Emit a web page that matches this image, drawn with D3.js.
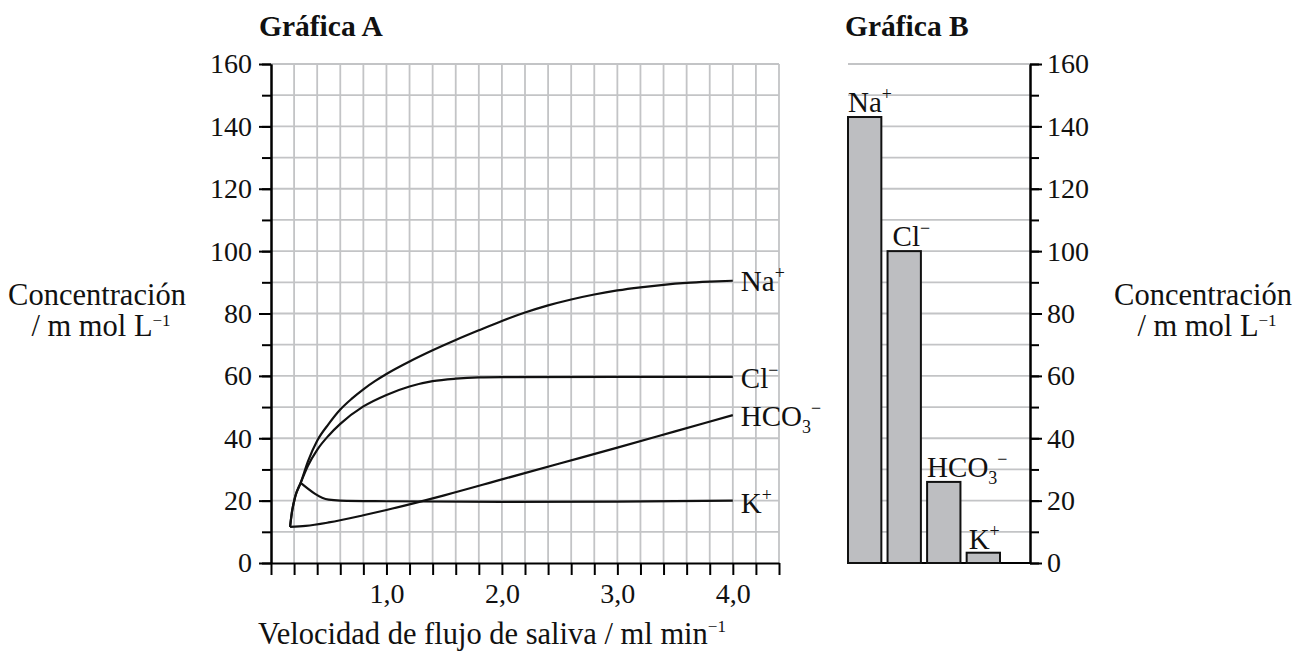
<!DOCTYPE html>
<html><head><meta charset="utf-8">
<script src="https://cdn.jsdelivr.net/npm/d3@7"></script>
<style>
html,body{margin:0;padding:0;background:#fff;}
svg{display:block;font-family:"Liberation Serif","Times New Roman",serif;}
</style></head>
<body>
<svg id="c" width="1306" height="657"></svg>
<script>
// ---- data ----
const yTicks = [0,20,40,60,80,100,120,140,160];
const xTickLabels = [1,2,3,4];
const naData  = [[0.165,11.6],[0.18,16],[0.21,21.3],[0.257,25.7],[0.32,32.6],[0.4,39.2],[0.5,44.6],[0.6,49.2],[0.7,52.7],[0.8,55.7],[0.9,58.3],[1.0,60.6],[1.2,64.6],[1.4,68.2],[1.6,71.5],[1.8,74.6],[2.0,77.6],[2.2,80.3],[2.4,82.6],[2.6,84.5],[2.8,86.1],[3.0,87.4],[3.2,88.4],[3.4,89.2],[3.6,89.8],[3.8,90.2],[4.0,90.5]];
const clData  = [[0.165,11.6],[0.18,16],[0.21,21.3],[0.257,25.7],[0.32,31.2],[0.4,36.3],[0.5,40.9],[0.6,44.6],[0.8,50.2],[1.0,53.9],[1.2,56.6],[1.4,58.3],[1.6,59.1],[1.8,59.5],[2.0,59.6],[3.0,59.7],[4.0,59.7]];
const hco3Data = [[0.165,11.6],[0.3,11.9],[0.5,13],[0.8,15.3],[1.0,17],[1.5,21.7],[2.0,26.8],[2.5,31.9],[3.0,37],[3.5,42.2],[4.0,47.4]];
const kData   = [[0.257,25.7],[0.5,20.3],[0.6,20],[1.0,19.8],[2.0,19.6],[3.0,19.7],[4.0,20]];
const barIons = ["Na","Cl","HCO3","K"];
const barValues = [143,100,26,3.3];

const FONT = 29, TICKFONT = 28, TITLEFONT = 30.5;
const svg = d3.select("#c");

const y = d3.scaleLinear().domain([0,160]).range([563,64]);
const xA = d3.scaleLinear().domain([0,4.4]).range([271,779]);
const xB = d3.scaleBand().domain(barIons).range([848,1000]).paddingInner(0.157).paddingOuter(0);
const gridB = [848,1030];

const gridColor = "#c3c4c6";

// ---------- Graph A ----------
const gA = svg.append("g");
gA.append("g").selectAll("line").data(d3.range(1,17).map(i=>i*10)).join("line")
  .attr("x1",xA(0)).attr("x2",xA(4.4)).attr("y1",d=>y(d)).attr("y2",d=>y(d))
  .attr("stroke",gridColor).attr("stroke-width",1.8);
gA.append("g").selectAll("line").data(d3.range(1,23).map(i=>i/5)).join("line")
  .attr("x1",d=>xA(d)).attr("x2",d=>xA(d)).attr("y1",y(0)).attr("y2",y(160))
  .attr("stroke",gridColor).attr("stroke-width",1.8);

const yAxisMinor = d3.axisLeft(y).tickValues(d3.range(0,17).map(i=>i*10)).tickSize(9).tickSizeOuter(0).tickFormat("");
const yAxisMajor = d3.axisLeft(y).tickValues(yTicks).tickSize(12).tickSizeOuter(0).tickPadding(7);
function styleAxis(g){
  g.selectAll("path,line").attr("stroke","#000").attr("stroke-width",2);
  g.selectAll("text").attr("font-size",TICKFONT).attr("fill","#111").attr("font-family","Liberation Serif, Times New Roman, serif");
}
gA.append("g").attr("transform",`translate(${xA(0)},0)`).call(yAxisMinor).call(styleAxis);
gA.append("g").attr("transform",`translate(${xA(0)},0)`).call(yAxisMajor).call(styleAxis);

const fmt = d => d3.format(".1f")(d).replace(".",",");
const xAxis = d3.axisBottom(xA).tickValues(d3.range(0,23).map(i=>i/5)).tickSize(12).tickSizeOuter(0)
  .tickFormat(d => xTickLabels.includes(Math.round(d*5)/5) ? fmt(d) : "").tickPadding(8);
gA.append("g").attr("transform",`translate(0,${y(0)})`).call(xAxis).call(styleAxis);

const line = d3.line().x(d=>xA(d[0])).y(d=>y(d[1])).curve(d3.curveMonotoneX);
[naData,clData,hco3Data,kData].forEach(dat=>{
  gA.append("path").attr("d",line(dat)).attr("fill","none").attr("stroke","#111").attr("stroke-width",2.2).attr("stroke-linejoin","round");
});

function ionLabel(g, x, yb, base, sub, sup){
  const t = g.append("text").attr("x",x).attr("y",yb).attr("font-size",FONT).attr("fill","#111");
  t.append("tspan").text(base);
  if(sub){ t.append("tspan").attr("font-size",FONT*0.62).attr("dy",7).text(sub); }
  if(sup){ t.append("tspan").attr("font-size",FONT*0.62).attr("dy",sub? -19 : -12).text(sup); }
  return t;
}
const lastOf = a => a[a.length-1];
ionLabel(gA, xA(4.0)+8, y(lastOf(naData)[1])+10, "Na", null, "+");
ionLabel(gA, xA(4.0)+8, y(lastOf(clData)[1])+11, "Cl", null, "−");
ionLabel(gA, xA(4.0)+8, y(lastOf(hco3Data)[1])+11, "HCO", "3", "−");
ionLabel(gA, xA(4.0)+8, y(lastOf(kData)[1])+12, "K", null, "+");

svg.append("text").attr("x",259).attr("y",36).attr("font-size",29.5).attr("font-weight","bold").attr("fill","#111").text("Gráfica A");
svg.append("text").attr("x",845).attr("y",36).attr("font-size",29.5).attr("font-weight","bold").attr("fill","#111").text("Gráfica B");

function concLabel(cx){
  svg.append("text").attr("x",cx).attr("y",305).attr("text-anchor","middle").attr("font-size",TITLEFONT).attr("fill","#111").text("Concentración");
  const t = svg.append("text").attr("x",cx+4).attr("y",336).attr("text-anchor","middle").attr("font-size",TITLEFONT).attr("fill","#111");
  t.append("tspan").text("/ m mol L");
  t.append("tspan").attr("font-size",17).attr("dy",-10).text("−1");
}
concLabel(97);
concLabel(1203);
const xt = svg.append("text").attr("x",492).attr("y",644).attr("text-anchor","middle").attr("font-size",TITLEFONT).attr("fill","#111");
xt.append("tspan").text("Velocidad de flujo de saliva / ml min");
xt.append("tspan").attr("font-size",17).attr("dy",-12).text("−1");

// ---------- Graph B ----------
const gB = svg.append("g");
gB.append("g").selectAll("line").data(d3.range(1,17).map(i=>i*10)).join("line")
  .attr("x1",gridB[0]).attr("x2",gridB[1]).attr("y1",d=>y(d)).attr("y2",d=>y(d))
  .attr("stroke",gridColor).attr("stroke-width",1.8);
gB.append("line").attr("x1",gridB[0]).attr("x2",gridB[1]).attr("y1",y(0)).attr("y2",y(0)).attr("stroke","#000").attr("stroke-width",2);

gB.selectAll("rect").data(barIons).join("rect")
  .attr("x",d=>xB(d)).attr("width",xB.bandwidth())
  .attr("y",(d,i)=>y(barValues[i])).attr("height",(d,i)=>y(0)-y(barValues[i]))
  .attr("fill","#bdbec1").attr("stroke","#111").attr("stroke-width",2);

const yAxisBMinor = d3.axisRight(y).tickValues(d3.range(0,17).map(i=>i*10)).tickSize(9).tickSizeOuter(0).tickFormat("");
const yAxisBMajor = d3.axisRight(y).tickValues(yTicks).tickSize(12).tickSizeOuter(0).tickPadding(5);
gB.append("g").attr("transform",`translate(${gridB[1]},0)`).call(yAxisBMinor).call(styleAxis);
gB.append("g").attr("transform",`translate(${gridB[1]},0)`).call(yAxisBMajor).call(styleAxis);

ionLabel(gB, xB("Na"), y(barValues[0])-5, "Na", null, "+");
ionLabel(gB, xB("Cl")+5, y(barValues[1])-5, "Cl", null, "−");
ionLabel(gB, xB("HCO3"), y(barValues[2])-5, "HCO", "3", "−");
ionLabel(gB, xB("K")+2, y(barValues[3])-4, "K", null, "+");
</script>
</body></html>
